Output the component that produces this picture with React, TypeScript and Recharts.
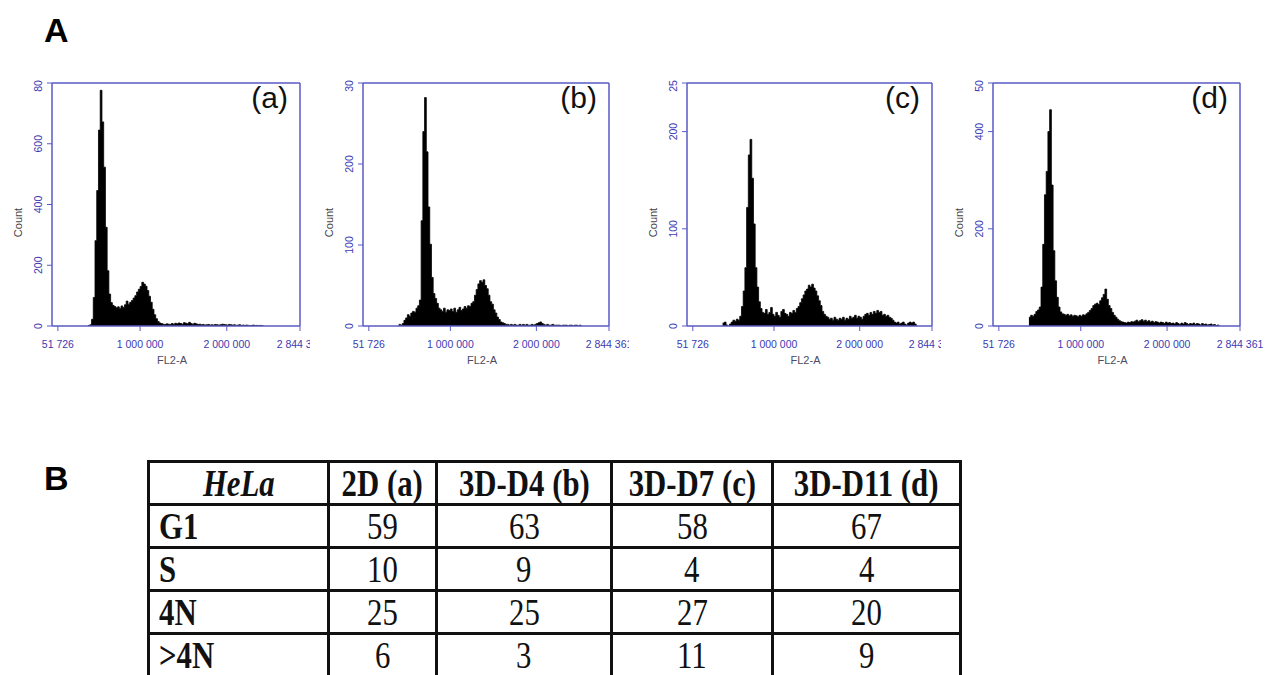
import { AreaChart, Area, XAxis, YAxis, ReferenceLine } from "recharts";

// FL2-A axis (instrument channel range)
const X_MAX = 2844361;
const X_LEFT = -16000; // a little room left of the 51 726 tick, like the cytometer plot
const xTicks = [51726, 1000000, 2000000, 2844361];

// histogram bins: 20 000 wide, first bin starts at 400 000
const BIN_START = 400000;
const BIN_WIDTH = 20000;

const countsA = [
  2, 4, 22, 94, 281, 446, 645, 776, 672, 523, 325, 182, 105, 77, 68, 64, 60, 63, 58, 66,
  61, 70, 82, 72, 78, 84, 92, 100, 112, 121, 130, 144, 138, 131, 117, 98, 78, 55, 37, 24,
  15, 10, 8, 6, 5, 7, 6, 5, 8, 6, 9, 7, 10, 8, 6, 11, 9, 7, 12, 8,
  6, 9, 7, 5, 6, 4, 5, 3, 4, 5, 3, 4, 3, 5, 4, 3, 4, 6, 5, 4,
  3, 5, 4, 3, 4, 2, 3, 4, 2, 3, 2, 3, 2, 1, 2, 3, 1, 2, 1, 2,
  1, 0,
];

const countsB = [
  2, 1, 3, 7, 10, 14, 12, 16, 18, 17, 22, 25, 32, 130, 240, 282, 215, 147, 101, 60,
  40, 34, 28, 22, 20, 18, 22, 17, 20, 19, 21, 18, 22, 17, 20, 23, 19, 21, 24, 22,
  25, 24, 28, 30, 38, 45, 52, 56, 54, 57, 50, 46, 38, 30, 27, 20, 16, 11, 8, 5,
  4, 3, 2, 2, 1, 2, 1, 2, 1, 1, 2, 1, 2, 1, 2, 1, 1, 2, 1, 2,
  3, 4, 5, 3, 2, 1, 2, 1, 1, 2, 1, 1, 1, 1, 0, 1, 1, 1, 0, 1,
  1, 0, 1, 1, 0, 1, 0,
];

const countsC = [
  3, 4, 1, 0, 2, 4, 6, 5, 7, 6, 10, 20, 36, 60, 122, 176, 192, 152, 105, 60,
  40, 25, 18, 14, 13, 17, 12, 14, 19, 12, 10, 14, 11, 9, 15, 17, 13, 12, 10, 14,
  13, 16, 14, 18, 20, 24, 28, 32, 36, 38, 42, 40, 43, 39, 36, 31, 26, 21, 15, 12,
  10, 9, 7, 8, 6, 9, 7, 6, 8, 7, 9, 6, 8, 7, 10, 8, 9, 11, 8, 10,
  9, 7, 10, 12, 13, 11, 14, 12, 15, 13, 16, 14, 15, 11, 12, 10, 11, 9, 8, 6,
  4, 3, 4, 2, 3, 4, 2, 1, 3, 4, 3, 4, 2, 0,
];

const countsD = [
  18, 22, 20, 24, 30, 33, 39, 80, 168, 270, 318, 400, 445, 290, 155, 93, 59, 39, 29, 25,
  24, 22, 24, 21, 23, 20, 22, 21, 19, 22, 20, 23, 22, 25, 28, 32, 36, 42, 45, 47,
  44, 52, 58, 65, 76, 55, 42, 36, 28, 22, 18, 14, 11, 9, 8, 7, 6, 8, 7, 9,
  8, 10, 12, 9, 11, 13, 10, 12, 9, 11, 8, 10, 7, 9, 8, 6, 8, 7, 5, 8,
  6, 7, 5, 6, 4, 7, 5, 3, 6, 4, 7, 5, 3, 5, 4, 6, 3, 5, 4, 2,
  5, 3, 4, 2, 3, 4, 2, 3, 1, 2, 0,
];

const yTicksA = [0, 200, 400, 600, 800];
const yTicksB = [0, 100, 200, 300];
const yTicksC = [0, 100, 200, 250];
const yTicksD = [0, 200, 400, 500];

// table B
const tableHeader = ["HeLa", "2D (a)", "3D-D4 (b)", "3D-D7 (c)", "3D-D11 (d)"];
const phases = ["G1", "S", "4N", ">4N"];
const pct2D = [59, 10, 25, 6];
const pct3D4 = [63, 9, 25, 3];
const pct3D7 = [58, 4, 27, 11];
const pct3D11 = [67, 4, 20, 9];

const AXIS_BLUE = "#5a5ac6";
const TICK_BLUE = "#3a3ab2";
const SANS = "Arial, 'Liberation Sans', sans-serif";
const SERIF = "'Liberation Serif', 'Times New Roman', serif";

const fmt = (v: number) => String(v).replace(/\B(?=(\d{3})+(?!\d))/g, " ");

const YTick = (props: any) => {
  const { x, y, payload } = props;
  return (
    <text
      x={x}
      y={y}
      transform={`rotate(-90 ${x} ${y})`}
      textAnchor="middle"
      fontSize={10.5}
      fontFamily={SANS}
      fill={TICK_BLUE}
    >
      {payload.value}
    </text>
  );
};

const CountLabel = (props: any) => {
  const vb = props.viewBox || {};
  const x = vb.x + vb.width - 30;
  const y = vb.y + vb.height / 2 + 18;
  return (
    <text x={x} y={y} transform={`rotate(-90 ${x} ${y})`} textAnchor="middle" fontSize={11} fontFamily={SANS} fill="#444">
      Count
    </text>
  );
};

const FlLabel = (props: any) => {
  const vb = props.viewBox || {};
  return (
    <text x={vb.x + vb.width / 2 - 4} y={vb.y + 38} textAnchor="middle" fontSize={11} fontFamily={SANS} fill="#4c4c66">
      FL2-A
    </text>
  );
};

function Histogram({ counts, yMax, yTicks, frameLeft, frameRight, clipRight, tag }: any) {
  const left = frameLeft - 42;
  const width = clipRight - left;
  const data = counts.map((c: number, i: number) => ({ x: BIN_START + i * BIN_WIDTH, count: c }));
  return (
    <>
      <div style={{ position: "absolute", left, top: 80, width, height: 300, overflow: "hidden" }}>
        <AreaChart
          width={width}
          height={300}
          data={data}
          margin={{ top: 3, right: clipRight - frameRight, bottom: 0, left: 0 }}
        >
          <XAxis
            type="number"
            dataKey="x"
            domain={[X_LEFT, X_MAX]}
            ticks={xTicks}
            interval={0}
            allowDataOverflow
            height={54}
            tickFormatter={fmt}
            axisLine={{ stroke: AXIS_BLUE, strokeWidth: 1.5 }}
            tickLine={{ stroke: AXIS_BLUE }}
            tickSize={5}
            tickMargin={10}
            tick={{ fontSize: 10.5, fill: TICK_BLUE, fontFamily: SANS }}
            label={FlLabel}
          />
          <YAxis
            type="number"
            domain={[0, yMax]}
            ticks={yTicks}
            interval={0}
            allowDataOverflow
            width={42}
            axisLine={{ stroke: AXIS_BLUE, strokeWidth: 1.5 }}
            tickLine={{ stroke: AXIS_BLUE }}
            tickSize={5}
            tickMargin={5}
            tick={<YTick />}
            label={CountLabel}
          />
          <ReferenceLine y={yMax} stroke={AXIS_BLUE} strokeWidth={1.5} />
          <ReferenceLine x={X_MAX} stroke={AXIS_BLUE} strokeWidth={1.5} />
          <Area
            type="stepAfter"
            dataKey="count"
            stroke="#000"
            strokeWidth={0.8}
            fill="#000"
            fillOpacity={1}
            dot={false}
            activeDot={false}
            isAnimationActive={false}
          />
        </AreaChart>
      </div>
      <div
        style={{
          position: "absolute",
          left: frameRight - 72,
          top: 83,
          width: 60,
          textAlign: "right",
          fontFamily: SANS,
          fontSize: 30,
          lineHeight: "30px",
          color: "#111",
        }}
      >
        {tag}
      </div>
    </>
  );
}

const colWidths = [180, 108, 175, 161, 188];

const cellBase: any = {
  border: "3px solid #111",
  padding: 0,
  height: 40,
  fontSize: 35,
  lineHeight: "35px",
  verticalAlign: "middle",
  overflow: "hidden",
  whiteSpace: "nowrap",
};

const Squeeze = ({ children, origin }: any) => (
  <span style={{ display: "inline-block", transform: "scale(0.88, 1.08)", transformOrigin: origin }}>{children}</span>
);

export default function App() {
  const columns = [pct2D, pct3D4, pct3D7, pct3D11];
  return (
    <div style={{ position: "absolute", left: 0, top: 0, width: 1275, height: 675, overflow: "hidden", background: "#fff" }}>
      <div style={{ position: "absolute", left: 44, top: 13, fontFamily: SANS, fontWeight: 700, fontSize: 34, lineHeight: "34px" }}>
        A
      </div>
      <div style={{ position: "absolute", left: 44, top: 461, fontFamily: SANS, fontWeight: 700, fontSize: 34, lineHeight: "34px" }}>
        B
      </div>

      <Histogram counts={countsA} yMax={800} yTicks={yTicksA} frameLeft={52} frameRight={300} clipRight={310} tag="(a)" />
      <Histogram counts={countsB} yMax={300} yTicks={yTicksB} frameLeft={363} frameRight={609} clipRight={629} tag="(b)" />
      <Histogram counts={countsC} yMax={250} yTicks={yTicksC} frameLeft={687} frameRight={932} clipRight={941} tag="(c)" />
      <Histogram counts={countsD} yMax={500} yTicks={yTicksD} frameLeft={993} frameRight={1240} clipRight={1275} tag="(d)" />

      <table
        style={{
          position: "absolute",
          left: 147,
          top: 460,
          borderCollapse: "collapse",
          tableLayout: "fixed",
          width: colWidths.reduce((s, w) => s + w, 0),
          fontFamily: SERIF,
          color: "#111",
        }}
      >
        <colgroup>
          {colWidths.map((w, i) => (
            <col key={i} style={{ width: w }} />
          ))}
        </colgroup>
        <tbody>
          <tr>
            {tableHeader.map((h, i) => (
              <td key={h} style={{ ...cellBase, textAlign: "center", fontWeight: 700, fontStyle: i === 0 ? "italic" : "normal" }}>
                <Squeeze origin="center">{h}</Squeeze>
              </td>
            ))}
          </tr>
          {phases.map((p, r) => (
            <tr key={p}>
              <td style={{ ...cellBase, textAlign: "left", fontWeight: 700, paddingLeft: 9 }}>
                <Squeeze origin="left center">{p}</Squeeze>
              </td>
              {columns.map((col, c) => (
                <td key={c} style={{ ...cellBase, textAlign: "center" }}>
                  <Squeeze origin="center">{col[r]}</Squeeze>
                </td>
              ))}
            </tr>
          ))}
        </tbody>
      </table>
    </div>
  );
}
